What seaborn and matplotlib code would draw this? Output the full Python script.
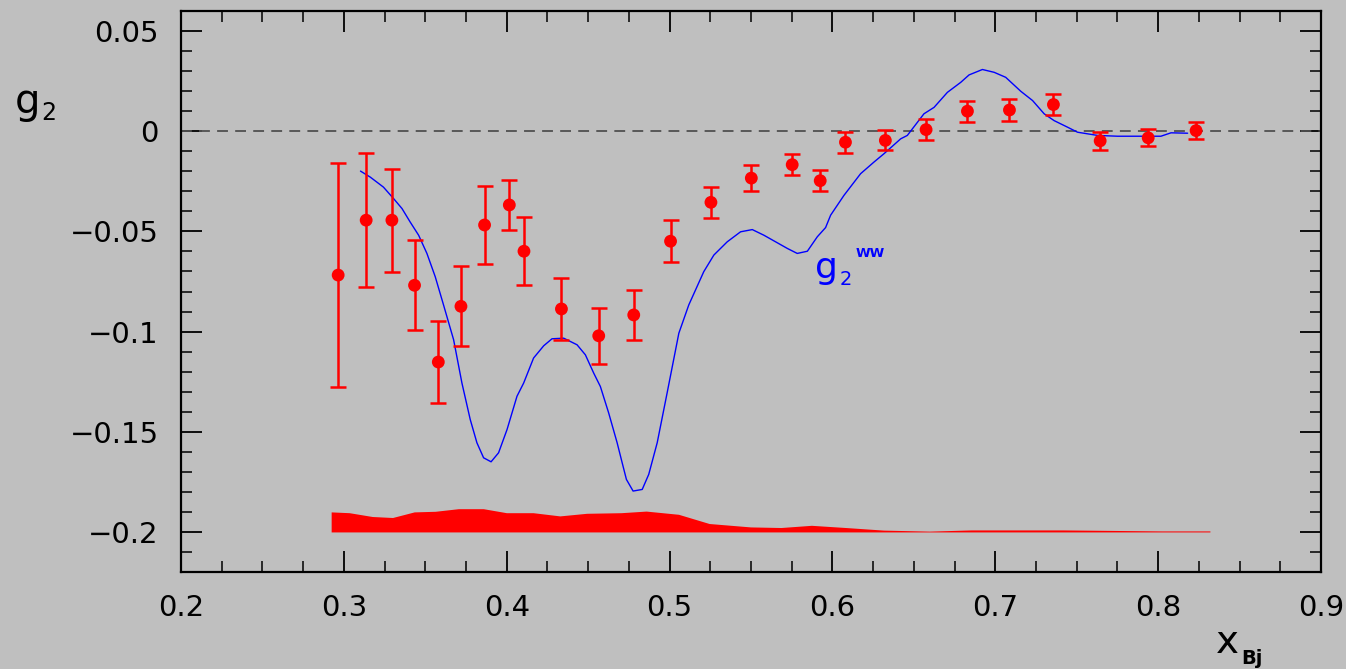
import numpy as np
import matplotlib
matplotlib.use('Agg')
import matplotlib.pyplot as plt
from matplotlib.ticker import MultipleLocator, FuncFormatter
import seaborn as sns

# Measured g2 points with statistical errors
x_bj = [0.2965, 0.3137, 0.3295, 0.3434, 0.3580, 0.3719, 0.3864, 0.4016, 0.4106,
        0.4336, 0.4565, 0.4780, 0.5006, 0.5254, 0.5502, 0.5753, 0.5925, 0.6080,
        0.6325, 0.6575, 0.6829, 0.7087, 0.7357, 0.7644, 0.7939, 0.8233]
g2 = [-0.0718, -0.0444, -0.0444, -0.0769, -0.1152, -0.0874, -0.0468, -0.0368, -0.0599,
      -0.0887, -0.1021, -0.0917, -0.0549, -0.0355, -0.0234, -0.0167, -0.0247, -0.0055,
      -0.0046, 0.0008, 0.0100, 0.0106, 0.0133, -0.0048, -0.0033, 0.0003]
g2_err = [0.0557, 0.0335, 0.0257, 0.0224, 0.0204, 0.0200, 0.0195, 0.0125, 0.0169,
          0.0153, 0.0139, 0.0124, 0.0104, 0.0077, 0.0064, 0.0054, 0.0051, 0.0052,
          0.0050, 0.0051, 0.0053, 0.0055, 0.0051, 0.0046, 0.0043, 0.0042]

# g2 Wandzura-Wilczek curve
ww_x = [0.3102, 0.3162, 0.3243, 0.3305, 0.3357, 0.3407, 0.3459, 0.3510, 0.3561, 0.3612,
        0.3674, 0.3725, 0.3776, 0.3817, 0.3858, 0.3904, 0.3950, 0.4002, 0.4063, 0.4104,
        0.4165, 0.4227, 0.4278, 0.4350, 0.4432, 0.4483, 0.4534, 0.4575, 0.4626, 0.4678,
        0.4709, 0.4735, 0.4776, 0.4832, 0.4872, 0.4924, 0.4985, 0.5057, 0.5118, 0.5210,
        0.5272, 0.5354, 0.5436, 0.5508, 0.5579, 0.5651, 0.5723, 0.5784, 0.5846, 0.5907,
        0.5958, 0.5989, 0.6071, 0.6173, 0.6255, 0.6317, 0.6419, 0.6460, 0.6562, 0.6624,
        0.6706, 0.6788, 0.6839, 0.6921, 0.6993, 0.7064, 0.7157, 0.7229, 0.7300, 0.7361,
        0.7444, 0.7505, 0.7628, 0.7751, 0.8017, 0.8079, 0.8181]
ww_y = [-0.0199, -0.0229, -0.0279, -0.0336, -0.0386, -0.0453, -0.0519, -0.0610, -0.0726, -0.0867,
        -0.1041, -0.1257, -0.1439, -0.1555, -0.1630, -0.1650, -0.1605, -0.1489, -0.1323, -0.1257,
        -0.1132, -0.1071, -0.1036, -0.1033, -0.1066, -0.1116, -0.1207, -0.1274, -0.1406, -0.1555,
        -0.1655, -0.1738, -0.1796, -0.1788, -0.1713, -0.1555, -0.1306, -0.1008, -0.0867, -0.0701,
        -0.0618, -0.0552, -0.0502, -0.0491, -0.0519, -0.0552, -0.0585, -0.0610, -0.0599, -0.0527,
        -0.0481, -0.0419, -0.0320, -0.0212, -0.0154, -0.0112, -0.0038, -0.0021, 0.0087, 0.0119,
        0.0194, 0.0244, 0.0281, 0.0308, 0.0294, 0.0269, 0.0199, 0.0153, 0.0087, 0.0053,
        0.0020, -0.0005, -0.0021, -0.0025, -0.0025, -0.0008, -0.0010]

# Systematic error band (drawn on top of the -0.2 baseline)
sys_x = [0.2922, 0.3033, 0.3174, 0.3299, 0.3432, 0.3561, 0.3703, 0.3856, 0.3998, 0.4162,
         0.4326, 0.4491, 0.4702, 0.4856, 0.5055, 0.5243, 0.5497, 0.5684, 0.5871, 0.6081,
         0.6315, 0.6595, 0.6852, 0.7414, 0.8021, 0.8318]
sys_top = [-0.1900, -0.1904, -0.1923, -0.1928, -0.1900, -0.1897, -0.1884, -0.1884, -0.1904, -0.1904,
           -0.1920, -0.1907, -0.1904, -0.1896, -0.1912, -0.1958, -0.1975, -0.1978, -0.1967, -0.1978,
           -0.1991, -0.1996, -0.1990, -0.1990, -0.1995, -0.1995]
sys_base = -0.2

bg = '#bfbfbf'
sns.set_style('ticks', {'axes.facecolor': bg, 'figure.facecolor': bg,
                        'axes.edgecolor': 'black', 'xtick.direction': 'in',
                        'ytick.direction': 'in', 'text.color': 'black',
                        'xtick.color': 'black', 'ytick.color': 'black'})
plt.rcParams['font.family'] = ['DejaVu Sans']

fig = plt.figure(figsize=(13.46, 6.69), dpi=100)
ax = fig.add_axes([181 / 1346, 1 - 572 / 669, 1140 / 1346, 561 / 669])

# zero line
ax.axhline(0, color='#505050', lw=1.3, ls=(0, (6, 4)), zorder=1)

# systematic band
ax.fill_between(sys_x, sys_base, sys_top, color='red', lw=0, zorder=2)

# WW curve
sns.lineplot(x=ww_x, y=ww_y, sort=False, color='#0000ff', lw=1.0, ax=ax, zorder=3)

# data
ax.errorbar(x_bj, g2, yerr=g2_err, fmt='none', ecolor='red', elinewidth=1.8,
            capsize=5.5, capthick=1.8, zorder=4)
sns.scatterplot(x=x_bj, y=g2, color='red', s=85, edgecolor='none', ax=ax, zorder=5)

ax.set_xlim(0.2, 0.9)
ax.set_ylim(-0.22, 0.06)
ax.xaxis.set_major_locator(MultipleLocator(0.1))
ax.xaxis.set_minor_locator(MultipleLocator(0.025))
ax.yaxis.set_major_locator(MultipleLocator(0.05))
ax.yaxis.set_minor_locator(MultipleLocator(0.01))


def fmt(v, pos):
    v = round(v, 6)
    if v == 0:
        return '0'
    return ('%g' % v).replace('-', '\u2212')


ax.xaxis.set_major_formatter(FuncFormatter(fmt))
ax.yaxis.set_major_formatter(FuncFormatter(fmt))
ax.tick_params(which='both', direction='in', top=True, right=True, color='black',
               labelcolor='black')
ax.tick_params(which='major', length=15, width=1.3, labelsize=21, pad=16)
ax.tick_params(which='minor', length=8, width=1.1)
for s in ax.spines.values():
    s.set_linewidth(1.6)

# axis titles
fig.text(15 / 1346, 1 - 113 / 669, 'g', fontsize=29, ha='left', va='baseline')
fig.text(41 / 1346, 1 - 120 / 669, '2', fontsize=17, ha='left', va='baseline')
fig.text(1216 / 1346, 1 - 653 / 669, 'x', fontsize=28, ha='left', va='baseline')
fig.text(1241 / 1346, 1 - 664 / 669, 'Bj', fontsize=14, fontweight='bold', ha='left', va='baseline')

# curve label
ax.text(0.5895, -0.0733, 'g', color='#0000ff', fontsize=26, ha='left', va='baseline')
ax.text(0.6045, -0.0768, '2', color='#0000ff', fontsize=14, ha='left', va='baseline')
ax.text(0.6140, -0.0628, 'WW', color='#0000ff', fontsize=9.5, fontweight='bold',
        ha='left', va='baseline')

fig.savefig('out.png', dpi=100, facecolor=bg)
